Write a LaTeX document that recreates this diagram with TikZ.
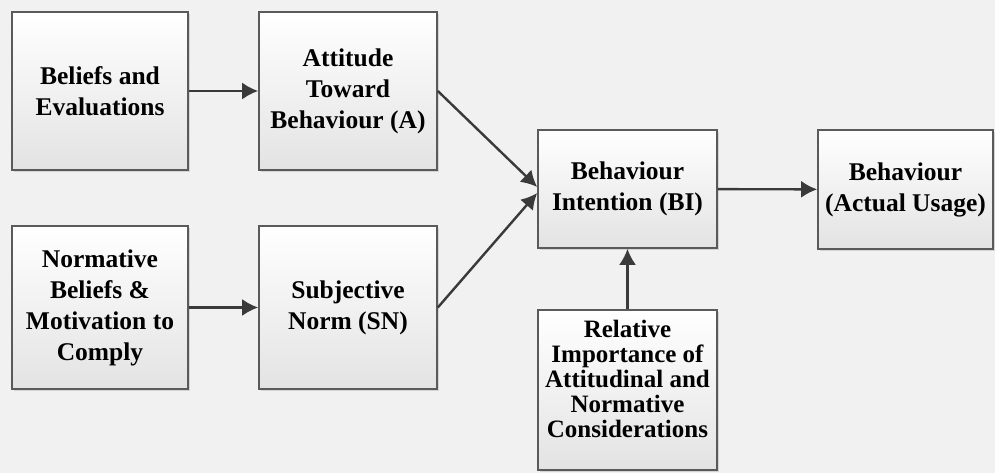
\documentclass[tikz,border=0pt]{standalone}
\usepackage{fontspec}
\setmainfont{Liberation Serif}
\usepackage{xcolor}
\usepackage{tikz}
\usetikzlibrary{arrows.meta,shadows}

\definecolor{bgcol}{HTML}{F1F1F1}
\definecolor{edgecol}{HTML}{5A5A5A}
\definecolor{arrcol}{HTML}{3A3A3A}

\begin{document}
\begin{tikzpicture}[x=1pt,y=-1pt,
  blk/.style={rectangle,draw=edgecol,line width=1.6pt,top color=white,bottom color=black!11,
    drop shadow={opacity=0.25,shadow xshift=2pt,shadow yshift=-2pt},
    align=center,font=\fontsize{25.5}{31}\selectfont\bfseries,inner sep=2pt},
  arr/.style={-{Latex[length=16pt,width=17pt]},arrcol,line width=2.4pt}]
  \fill[bgcol] (0,0) rectangle (995,473);
  \useasboundingbox (0,0) rectangle (995,473);
  \node[blk,minimum width=176pt,minimum height=158pt] (bel) at (100,91) {Beliefs and\\Evaluations};
  \node[blk,minimum width=178pt,minimum height=158pt] (att) at (348,91) {Attitude\\Toward\\Behaviour (A)};
  \node[blk,minimum width=176pt,minimum height=163pt] (nor) at (100,307.5) {Normative\\Beliefs \&\\Motivation to\\Comply};
  \node[blk,minimum width=178pt,minimum height=163pt] (sub) at (348,307.5) {Subjective\\Norm (SN)};
  \node[blk,minimum width=179pt,minimum height=118pt] (bi) at (627.5,189) {Behaviour\\Intention (BI)};
  \node[blk,minimum width=175pt,minimum height=119pt] (beh) at (905.5,189.5) {Behaviour\\(Actual Usage)};
  \node[blk,minimum width=179pt,minimum height=160pt,text depth=22pt,
    font=\fontsize{25}{25}\selectfont\bfseries] (rel) at (627.5,390) {Relative\\Importance of\\Attitudinal and\\Normative\\Considerations};
  \draw[arr] (bel) -- (att);
  \draw[arr] (nor) -- (sub);
  \draw[arr] (att.east) -- ([yshift=2pt]bi.west);
  \draw[arr] (sub.east) -- ([yshift=-4pt]bi.west);
  \draw[arr] (rel) -- (bi);
  \draw[arr] (bi) -- (beh);
\end{tikzpicture}
\end{document}
